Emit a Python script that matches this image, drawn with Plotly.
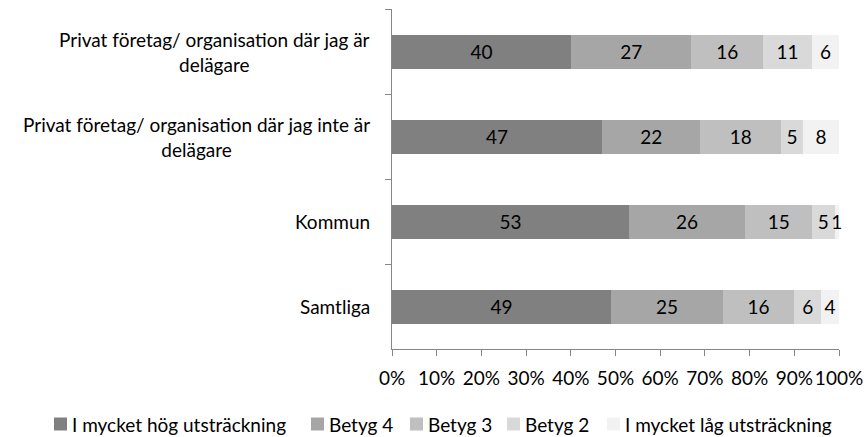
import plotly.graph_objects as go

categories = [
    "Privat företag/ organisation där jag är<br>delägare",
    "Privat företag/ organisation där jag inte är<br>delägare",
    "Kommun",
    "Samtliga",
]
series_names = [
    "I mycket hög utsträckning",
    "Betyg 4",
    "Betyg 3",
    "Betyg 2",
    "I mycket låg utsträckning",
]
values = [
    [40, 47, 53, 49],
    [27, 22, 26, 25],
    [16, 18, 15, 16],
    [11, 5, 5, 6],
    [6, 8, 1, 4],
]
x_ticks = list(range(0, 101, 10))

# styling / layout
colors = ["#808080", "#a6a6a6", "#bfbfbf", "#d9d9d9", "#f2f2f2"]
FONT = "Lato, Carlito, 'Open Sans', sans-serif"
FS = 19
W, H = 866, 437
ML, MR, MT, MB = 392, 27, 9, 88
PW, PH = W - ML - MR, H - MT - MB
legend_px = [54, 311, 410, 507, 607]   # legend square left edges (px)
legend_cy = 424                          # legend centre line (px)
SQ = 13

def px2x(px):
    return (px - ML) / PW

def py2y(py):
    return (H - MB - py) / PH

fig = go.Figure()
for name, vals, col in zip(series_names, values, colors):
    fig.add_trace(go.Bar(
        y=categories, x=vals, name=name, orientation="h",
        marker=dict(color=col, line=dict(width=0)),
        text=[str(v) for v in vals], textposition="inside",
        insidetextanchor="middle", constraintext="none",
        textfont=dict(color="black", size=FS, family=FONT),
        cliponaxis=False, showlegend=False,
    ))

# category labels: centred lines, block right edge near axis
for c in categories:
    fig.add_annotation(
        x=0, xref="paper", y=c, yref="y", text=c, showarrow=False,
        xanchor="right", yanchor="middle", align="center", xshift=-20,
        font=dict(size=FS, color="black", family=FONT),
    )

# manual legend
for name, col, lx in zip(series_names, colors, legend_px):
    fig.add_shape(
        type="rect", xref="paper", yref="paper",
        x0=px2x(lx), x1=px2x(lx + SQ),
        y0=py2y(legend_cy + SQ / 2), y1=py2y(legend_cy - SQ / 2),
        fillcolor=col, line=dict(width=0),
    )
    fig.add_annotation(
        x=px2x(lx + SQ + 3), xref="paper", y=py2y(legend_cy), yref="paper",
        text=name, showarrow=False, xanchor="left", yanchor="middle",
        font=dict(size=FS, color="black", family=FONT),
    )

fig.update_layout(
    barmode="stack",
    bargap=0.6,
    width=W, height=H,
    margin=dict(l=ML, r=MR, t=MT, b=MB, autoexpand=False),
    paper_bgcolor="white", plot_bgcolor="white",
    font=dict(family=FONT, size=FS, color="black"),
    showlegend=False,
)
fig.update_xaxes(
    range=[0, 100], tickvals=x_ticks, ticktext=[f"{t}%" for t in x_ticks],
    showgrid=False, zeroline=False, showline=True, linecolor="#868686",
    ticks="outside", ticklen=6, tickcolor="#868686", tickangle=0,
    tickfont=dict(size=FS), ticklabelstandoff=6, automargin=False,
    fixedrange=True,
)
fig.update_yaxes(
    categoryorder="array", categoryarray=categories, autorange="reversed",
    showticklabels=False, showgrid=False, zeroline=False,
    showline=True, linecolor="#868686", automargin=False,
    ticks="outside", ticklen=6, tickcolor="#868686", tickson="boundaries",
)

fig.write_html(
    "out.html",
    config={"displayModeBar": False},
    post_script="document.body.style.margin='0';document.body.style.overflow='hidden';",
)
